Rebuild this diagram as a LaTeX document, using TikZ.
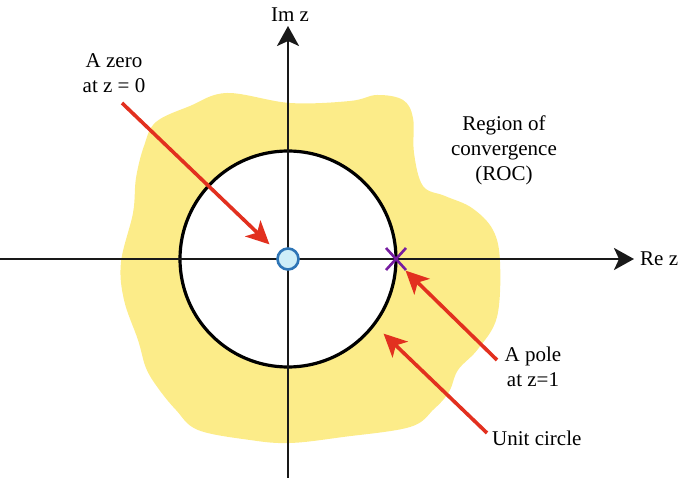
\documentclass[tikz,border=0pt]{standalone}
\usepackage{fontspec}
\setmainfont{Liberation Serif}
\usetikzlibrary{arrows.meta}
\definecolor{rocyellow}{RGB}{252,236,137}
\definecolor{arrred}{RGB}{226,48,31}
\definecolor{zeroblue}{RGB}{46,117,182}
\definecolor{zerofill}{RGB}{206,238,248}
\definecolor{polepurple}{RGB}{118,28,160}
\tikzset{
  axisline/.style={line width=2.3pt, draw=black!90, -{Stealth[length=20pt,width=22pt,inset=5pt]}},
  redarrow/.style={line width=3.6pt, draw=arrred, -{Stealth[length=23pt,width=22pt,inset=6pt]}, shorten >=-2pt},
  lbl/.style={font=\fontsize{21}{25}\selectfont, align=center, inner sep=0pt},
}
\begin{document}
\begin{tikzpicture}[x=1pt,y=-1pt]
\useasboundingbox (0,0) rectangle (685,478);
% ROC blob
\fill[rocyellow] plot[smooth cycle, tension=0.6] coordinates {
 (227,93) (290,103) (350,101) (377,95) (403,100) (413,118) (414,153) (423,186)
 (445,196) (472,208) (493,230) (500,262) (497,317) (478,349) (458,370)
 (449,392) (434,409) (410,427) (343,437) (290,443) (250,440) (198,430)
 (176,410) (158,388) (146,368) (138,340) (124,300) (121,262) (133,213)
 (136,178) (144,146) (156,122) (190,106)};
% unit circle
\coordinate (O) at (288,259);
\filldraw[fill=white, draw=black, line width=3.2pt] (O) circle[radius=108];
% axes
\coordinate (xl) at (0,259);
\coordinate (xr) at (634,259);
\coordinate (yb) at (288,478);
\coordinate (yt) at (288,26);
\draw[axisline] (xl) -- (xr);
\draw[axisline] (yb) -- (yt);
\node[lbl, anchor=west] (rez) at (640,259) {Re z};
\node[lbl, anchor=south] (imz) at (290,22) {Im z};
% zero
\node[circle, draw=zeroblue, fill=zerofill, line width=2.6pt, minimum size=21pt, inner sep=0pt] (zero) at (O) {};
% pole
\coordinate (pole) at (396,259);
\draw[polepurple, line width=2.6pt] ([shift={(-10,-11)}]pole) -- ([shift={(10,11)}]pole)
  ([shift={(-10,11)}]pole) -- ([shift={(10,-11)}]pole);
% labels
\node[lbl] (zerolbl) at (114,73) {A zero\\at z = 0};
\node[lbl] (roclbl) at (504,150) {Region of\\convergence\\(ROC)};
\node[lbl] (polelbl) at (533,367) {A pole\\at z=1};
\node[lbl, anchor=west] (unitlbl) at (492,438) {Unit circle};
% arrows
\coordinate (a1s) at (122,103);
\coordinate (a1e) at (268,243);
\coordinate (a2s) at (497,360);
\coordinate (a2e) at (407,272);
\coordinate (a3s) at (487,433);
\coordinate (a3e) at (385,335);
\draw[redarrow] (a1s) -- (a1e);
\draw[redarrow] (a2s) -- (a2e);
\draw[redarrow] (a3s) -- (a3e);
\end{tikzpicture}
\end{document}
